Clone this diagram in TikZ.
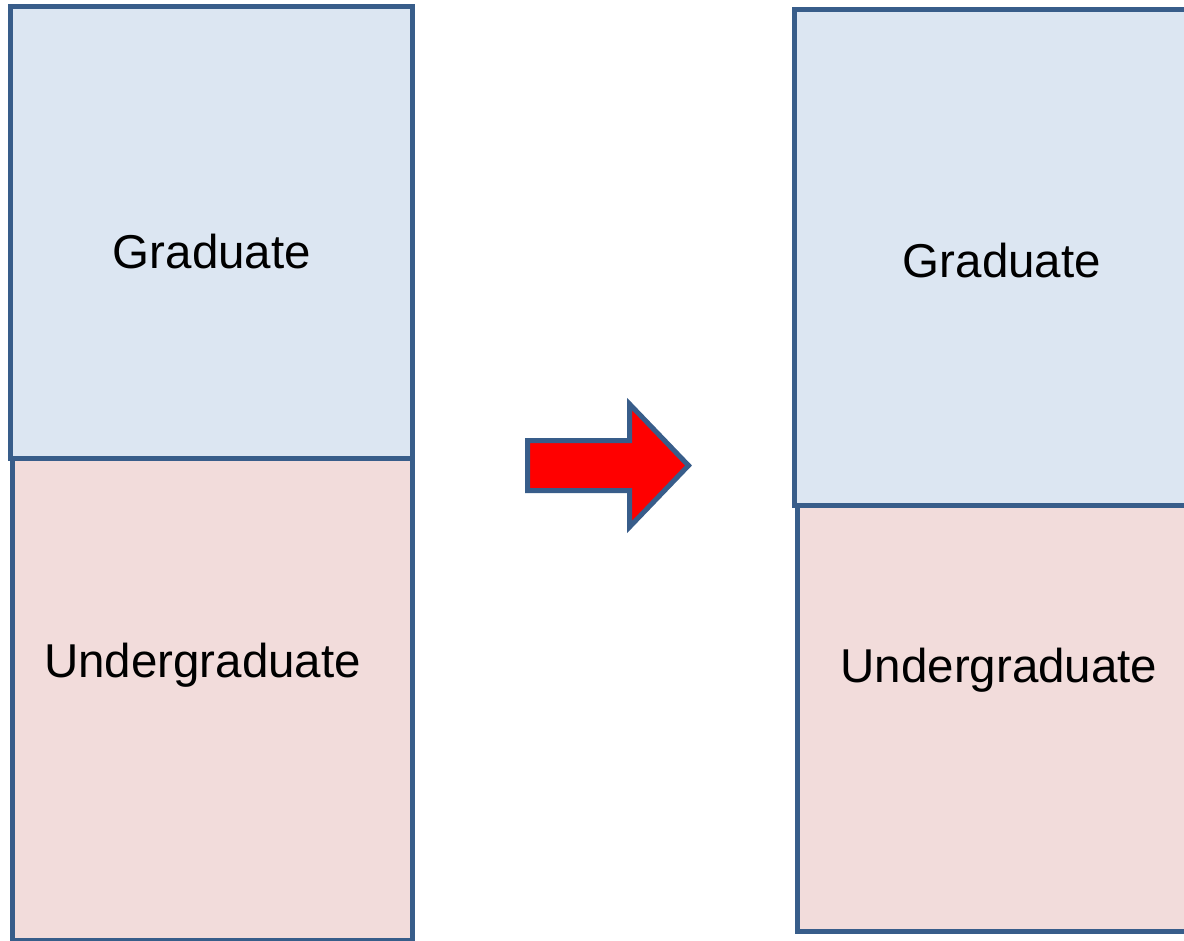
\documentclass[tikz,border=0pt]{standalone}
\usepackage{fontspec}
\setmainfont{Liberation Sans}
\definecolor{edgeblue}{HTML}{385D8A}
\definecolor{gradfill}{HTML}{DCE6F2}
\definecolor{ugfill}{HTML}{F2DCDB}
\tikzset{
  boxline/.style={draw=edgeblue, line width=5pt, line join=miter},
  gradbox/.style={boxline, fill=gradfill},
  ugbox/.style={boxline, fill=ugfill},
  lbl/.style={anchor=base, inner sep=0pt, font=\fontsize{47.5}{57}\selectfont, text=black},
  bigarrow/.style={draw=edgeblue, line width=5pt, fill=red, line join=miter}
}
\begin{document}
\begin{tikzpicture}[x=1pt,y=-1pt]
\useasboundingbox (0,0) rectangle (1184,941);
\clip (0,0) rectangle (1184,941);
% left column
\draw[ugbox] (12,458.5) rectangle (412,940);
\draw[gradbox] (10.5,6.5) rectangle (412,458.5);
% right column
\draw[ugbox] (797,505.5) rectangle (1200,931);
\draw[gradbox] (794.5,9.5) rectangle (1200,505.5);
% labels
\node[lbl] (lgrad) at (212,269) {Graduate};
\node[lbl] (lug) at (202.5,677) {Undergraduate};
\node[lbl] (rgrad) at (1002,278) {Graduate};
\node[lbl] (rug) at (999,682) {Undergraduate};
% arrow
\draw[bigarrow] (527.5,440.5) -- (629.5,440.5) -- (629.5,404) -- (688.5,465.5) -- (629.5,527) -- (629.5,490.5) -- (527.5,490.5) -- cycle;
\end{tikzpicture}
\end{document}
